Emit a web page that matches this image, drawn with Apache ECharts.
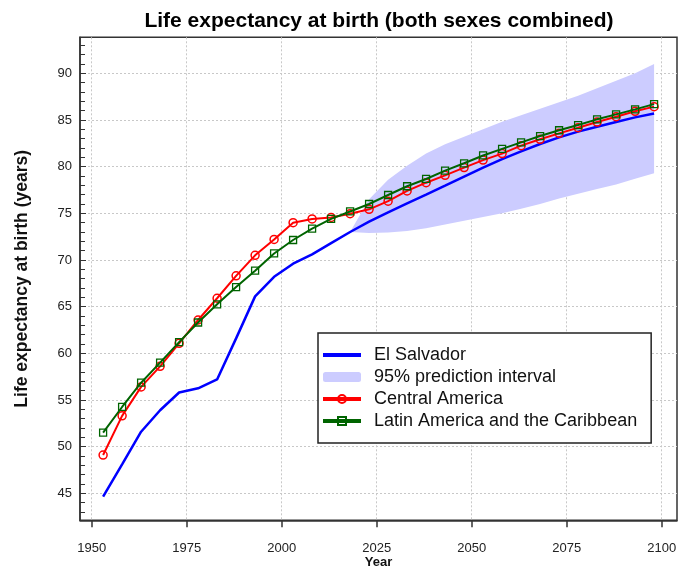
<!DOCTYPE html>
<html><head><meta charset="utf-8">
<script src="https://cdn.jsdelivr.net/npm/echarts@6/dist/echarts.min.js"></script>
<style>html,body{margin:0;padding:0;background:#fff}#c{width:695px;height:568px}</style>
</head><body><div id="c"></div>
<script>
const years = [1953,1958,1963,1968,1973,1978,1983,1988,1993,1998,2003,2008,2013,2018,2023,2028,2033,2038,2043,2048,2053,2058,2063,2068,2073,2078,2083,2088,2093,2098];
const elSalvador = [44.65,48.1,51.6,53.9,55.8,56.25,57.2,61.6,66.1,68.2,69.6,70.6,71.8,73.0,74.1,75.1,76.07,77.0,77.96,78.93,79.9,80.8,81.64,82.43,83.14,83.75,84.28,84.78,85.28,85.7];
const centralAmerica = [49.1,53.3,56.4,58.6,61.07,63.57,65.9,68.3,70.5,72.2,74.0,74.4,74.55,74.96,75.43,76.3,77.4,78.28,79.07,79.9,80.7,81.4,82.25,82.93,83.57,84.17,84.78,85.35,85.93,86.43];
const latinAmerica = [51.5,54.25,56.85,59.0,61.2,63.3,65.25,67.1,68.85,70.7,72.14,73.35,74.4,75.2,76.0,76.96,77.9,78.68,79.57,80.36,81.2,81.9,82.6,83.28,83.9,84.46,85.07,85.6,86.14,86.7];
const bandYears = [2018,2023,2028,2033,2038,2043,2048,2053,2058,2063,2068,2073,2078,2083,2088,2093,2098];
const bandLower = [73.0,72.9,72.95,73.1,73.4,73.8,74.2,74.6,75.0,75.5,76.0,76.6,77.1,77.6,78.1,78.7,79.3];
const bandUpper = [73.0,76.5,78.6,80.1,81.4,82.4,83.2,84.0,84.8,85.5,86.2,86.9,87.6,88.4,89.2,90.0,91.0];
const xTicks = [1950,1975,2000,2025,2050,2075,2100];
const yTicks = [45,50,55,60,65,70,75,80,85,90];
const yMinorTicks = [43,44,45,46,47,48,49,50,51,52,53,54,55,56,57,58,59,60,61,62,63,64,65,66,67,68,69,70,71,72,73,74,75,76,77,78,79,80,81,82,83,84,85,86,87,88,89,90,91,92,93];

const pairs = (xs, ys) => xs.map((x, i) => [x, ys[i]]);
const FONT = '"Liberation Sans", Arial, Helvetica, sans-serif';
const AX = '#333';
const BAND = '#CCCCFF';
const chart = echarts.init(document.getElementById('c'), null, {renderer: 'canvas'});
const yMin = 42.107, yMax = 93.86, xMin = 1946.92, xMax = 2104.03;
chart.setOption({
  animation: false,
  backgroundColor: '#fff',
  textStyle: {fontFamily: FONT},
  title: {
    text: 'Life expectancy at birth (both sexes combined)',
    left: 374, textAlign: 'center', top: 6,
    textStyle: {fontFamily: FONT, fontSize: 21, fontWeight: 'bold', color: '#000'}
  },
  grid: {left: 80, top: 37.3, width: 597, height: 483, show: true, borderColor: AX, borderWidth: 1.5,
         containLabel: false, outerBoundsMode: 'none'},
  legend: {
    orient: 'vertical', left: 318, top: 333,
    padding: [13, 14, 13, 3],
    borderColor: '#222', borderWidth: 1.5, backgroundColor: '#fff',
    itemWidth: 38, itemHeight: 10, itemGap: 4,
    textStyle: {fontFamily: FONT, fontSize: 18, color: '#111', padding: [0, 0, 0, 8]},
    data: [
      {name: 'El Salvador', lineStyle: {width: 4, color: '#0000FF'}, itemStyle: {color: 'rgba(0,0,0,0)', borderWidth: 0, opacity: 0}},
      {name: '95% prediction interval', icon: 'roundRect', itemStyle: {color: BAND}},
      {name: 'Central America', lineStyle: {width: 4}},
      {name: 'Latin America and the Caribbean', lineStyle: {width: 4}}
    ]
  },
  xAxis: {
    type: 'value', min: xMin, max: xMax,
    name: 'Year', nameLocation: 'middle', nameGap: 36, nameMoveOverlap: false,
    nameTextStyle: {fontFamily: FONT, fontSize: 13, fontWeight: 'bold', color: '#111'},
    axisLine: {show: true, lineStyle: {color: AX, width: 1.5}},
    axisTick: {show: true, inside: false, length: 7, customValues: xTicks, lineStyle: {color: AX, width: 1.5}},
    axisLabel: {customValues: xTicks, margin: 21.5, fontFamily: FONT, fontSize: 13, color: '#222', formatter: v => String(Math.round(v))},
    splitLine: {show: true, lineStyle: {color: '#c8c8c8', width: 1, type: [2, 2]}}
  },
  yAxis: [{
    type: 'value', min: yMin, max: yMax,
    name: 'Life expectancy at birth (years)', nameLocation: 'middle', nameGap: 49,
    nameTextStyle: {fontFamily: FONT, fontSize: 17.5, fontWeight: 'bold', color: '#111'},
    axisLine: {show: true, lineStyle: {color: AX, width: 1.5}},
    axisTick: {show: true, inside: true, length: 6, customValues: yTicks, lineStyle: {color: AX, width: 1}},
    axisLabel: {customValues: yTicks, margin: 8, fontFamily: FONT, fontSize: 13, color: '#222', formatter: v => String(Math.round(v))},
    splitLine: {show: true, lineStyle: {color: '#c8c8c8', width: 1, type: [2, 2]}}
  }, {
    type: 'value', min: yMin, max: yMax, position: 'left',
    axisLine: {show: false},
    axisTick: {show: true, inside: true, length: 5, customValues: yMinorTicks, lineStyle: {color: AX, width: 1}},
    axisLabel: {show: false},
    splitLine: {show: false}
  }],
  series: [
    {
      name: '95% prediction interval', type: 'custom',
      data: bandYears.map((x, i) => [x, bandLower[i], bandUpper[i]]),
      encode: {x: 0, y: [1, 2]},
      itemStyle: {color: BAND},
      silent: true, z: 1,
      renderItem: (params, api) => {
        if (params.dataIndex !== 0) return null;
        const top = bandYears.map((x, i) => api.coord([x, bandUpper[i]]));
        const bot = bandYears.map((x, i) => api.coord([x, bandLower[i]])).reverse();
        return {type: 'polygon', shape: {points: top.concat(bot)}, style: {fill: BAND}};
      }
    },
    {
      name: 'El Salvador', type: 'line', data: pairs(years, elSalvador),
      symbol: 'none', lineStyle: {color: '#0000FF', width: 2.5}, itemStyle: {color: '#0000FF'}, z: 3
    },
    {
      name: 'Central America', type: 'line', data: pairs(years, centralAmerica),
      symbol: 'circle', symbolSize: 8,
      lineStyle: {color: '#FF0000', width: 2},
      itemStyle: {color: 'rgba(255,255,255,0)', borderColor: '#FF0000', borderWidth: 1.5}, z: 4
    },
    {
      name: 'Latin America and the Caribbean', type: 'line', data: pairs(years, latinAmerica),
      symbol: 'rect', symbolSize: 7,
      lineStyle: {color: '#006400', width: 2},
      itemStyle: {color: 'rgba(255,255,255,0)', borderColor: '#006400', borderWidth: 1.3}, z: 5
    }
  ]
});
</script></body></html>
